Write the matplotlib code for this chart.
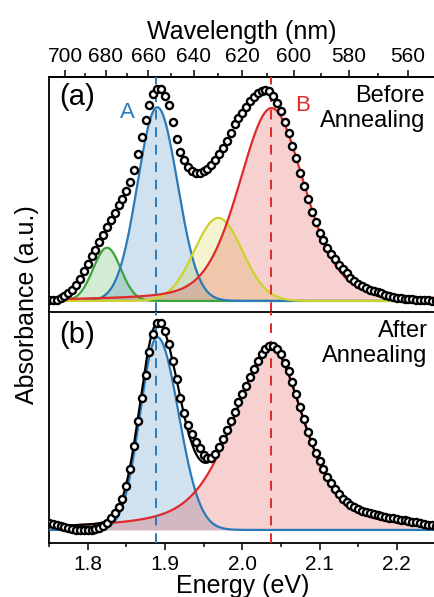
import numpy as np
import matplotlib
matplotlib.use('Agg')
import matplotlib.pyplot as plt
from matplotlib.ticker import MultipleLocator

plt.rcParams['font.family'] = ['Liberation Sans', 'DejaVu Sans']

# ---------------- data ----------------
energy = np.round(np.linspace(1.75, 2.25, 101), 3)

absorb_before = [
    0.005, 0.003, 0.005, 0.012, 0.022, 0.035, 0.052, 0.075, 0.105, 0.14,
    0.175, 0.21, 0.24, 0.275, 0.31, 0.345, 0.38, 0.415, 0.45, 0.48,
    0.515, 0.56, 0.615, 0.69, 0.77, 0.85, 0.92, 0.97, 0.995, 0.995,
    0.965, 0.92, 0.84, 0.76, 0.70, 0.66, 0.63, 0.61, 0.60, 0.60,
    0.61, 0.62, 0.64, 0.66, 0.69, 0.72, 0.75, 0.79, 0.83, 0.86,
    0.885, 0.91, 0.94, 0.96, 0.975, 0.985, 0.99, 0.985, 0.965, 0.93,
    0.89, 0.84, 0.79, 0.73, 0.67, 0.60, 0.54, 0.48, 0.42, 0.37,
    0.32, 0.285, 0.25, 0.22, 0.195, 0.17, 0.15, 0.13, 0.11, 0.095,
    0.08, 0.07, 0.06, 0.052, 0.045, 0.04, 0.035, 0.03, 0.025, 0.02,
    0.016, 0.013, 0.011, 0.009, 0.007, 0.006, 0.005, 0.004, 0.003, 0.002,
    0.001,
]

absorb_after = [
    0.035, 0.03, 0.024, 0.018, 0.013, 0.009, 0.005, 0.002, 0.0, -0.002,
    -0.002, 0.0, 0.003, 0.01, 0.02, 0.035, 0.055, 0.08, 0.11, 0.15,
    0.21, 0.29, 0.40, 0.52, 0.63, 0.74, 0.85, 0.94, 0.99, 0.99,
    0.95, 0.89, 0.81, 0.72, 0.63, 0.56, 0.50, 0.46, 0.42, 0.39,
    0.36, 0.345, 0.345, 0.365, 0.395, 0.435, 0.48, 0.52, 0.565, 0.61,
    0.65, 0.69, 0.73, 0.77, 0.81, 0.84, 0.865, 0.88, 0.88, 0.865,
    0.84, 0.80, 0.76, 0.71, 0.65, 0.59, 0.53, 0.47, 0.42, 0.37,
    0.33, 0.29, 0.255, 0.225, 0.195, 0.17, 0.15, 0.135, 0.12, 0.11,
    0.10, 0.093, 0.087, 0.081, 0.076, 0.071, 0.067, 0.063, 0.059, 0.055,
    0.052, 0.049, 0.046, 0.043, 0.04, 0.037, 0.034, 0.03, 0.026, 0.022,
    0.02,
]

# fitted peak components: centre (eV), height, FWHM left / right (eV), Lorentzian fraction
names_before = ['green', 'blue', 'yellow', 'red']
centre_before = [1.825, 1.890, 1.969, 2.038]
height_before = [0.25, 0.91, 0.39, 0.906]
fwhm_l_before = [0.042, 0.060, 0.073, 0.100]
fwhm_r_before = [0.042, 0.062, 0.073, 0.100]
eta_before = [0.0, 0.0, 0.0, 0.3]

names_after = ['blue', 'red']
centre_after = [1.890, 2.038]
height_after = [0.923, 0.87]
fwhm_l_after = [0.052, 0.120]
fwhm_r_after = [0.065, 0.100]
eta_after = [0.0, 0.5]

peak_A = 1.889
peak_B = 2.0376

wl_major = [700, 680, 660, 640, 620, 600, 580, 560]

colors = {'green': '#3aa53a', 'blue': '#2a7ab9', 'yellow': '#cdd22c', 'red': '#de2a2a'}


def pvoigt(x, c, h, wl, wr, eta):
    w = np.where(x < c, wl, wr)
    g = w / 2.0
    s = w / 2.3548
    d = x - c
    return h * (eta / (1 + (d / g) ** 2) + (1 - eta) * np.exp(-d ** 2 / (2 * s ** 2)))


xf = np.linspace(1.75, 2.25, 800)

fig = plt.figure(figsize=(4.34, 5.97), dpi=100)
L, R = 49 / 434, 435.5 / 434
ax1 = fig.add_axes([L, 1 - 312 / 597, R - L, 235 / 597])
ax2 = fig.add_axes([L, 1 - 543 / 597, R - L, 231 / 597])


def draw_panel(ax, names, cen, hei, fl, fr, eta, data, fitline):
    total = np.zeros_like(xf)
    for n, c, h, a, b, e in zip(names, cen, hei, fl, fr, eta):
        y = pvoigt(xf, c, h, a, b, e)
        total += y
        ax.fill_between(xf, 0, y, color=colors[n], alpha=0.22, lw=0, zorder=2)
        ax.plot(xf, y, color=colors[n], lw=1.6, zorder=3)
    ax.axvline(peak_A, color=colors['blue'], lw=1.4, dashes=(5, 4), zorder=4)
    ax.axvline(peak_B, color=colors['red'], lw=1.4, dashes=(5, 4), zorder=4)
    if fitline:
        ax.plot(xf, total, color='black', lw=1.6, zorder=5)
    ax.plot(energy, data, 'o', ms=5.1, mfc='white', mec='black', mew=1.7,
            zorder=6, clip_on=True)
    ax.set_xlim(1.75, 2.25)
    ax.set_yticks([])
    for sp in ax.spines.values():
        sp.set_linewidth(1.3)


draw_panel(ax1, names_before, centre_before, height_before, fwhm_l_before,
           fwhm_r_before, eta_before, absorb_before, False)
draw_panel(ax2, names_after, centre_after, height_after, fwhm_l_after,
           fwhm_r_after, eta_after, absorb_after, True)

ax1.set_ylim(-0.052, 1.052)
ax2.set_ylim(-0.0625, 1.043)
ax1.spines['bottom'].set_visible(False)

ax1.tick_params(axis='x', bottom=False, labelbottom=False)
ax2.xaxis.set_major_locator(MultipleLocator(0.1))
ax2.xaxis.set_minor_locator(MultipleLocator(0.05))
ax2.tick_params(axis='x', which='major', direction='out', length=5, width=1.1,
                labelsize=15, pad=4)
ax2.tick_params(axis='x', which='minor', direction='out', length=3, width=1.1)
ax2.set_xlabel('Energy (eV)', fontsize=18, labelpad=0)

# top wavelength axis
secax = ax1.secondary_xaxis('top', functions=(lambda e: 1239.84 / np.maximum(e, 1e-6),
                                              lambda w: 1239.84 / np.maximum(w, 1e-6)))
secax.set_xticks(wl_major)
secax.xaxis.set_minor_locator(MultipleLocator(10))
secax.tick_params(axis='x', which='major', direction='out', length=5, width=1.1,
                  labelsize=15, pad=3)
secax.tick_params(axis='x', which='minor', direction='out', length=3, width=1.1)
secax.set_xlabel('Wavelength (nm)', fontsize=18, labelpad=6)
secax.spines['top'].set_linewidth(1.3)

# annotations
ax1.text(0.072, 0.915, '(a)', transform=ax1.transAxes, fontsize=21,
         ha='center', va='center')
ax2.text(0.072, 0.9, '(b)', transform=ax2.transAxes, fontsize=21,
         ha='center', va='center')
ax1.text(0.202, 0.85, 'A', transform=ax1.transAxes, fontsize=16,
         color=colors['blue'], ha='center', va='center')
ax1.text(0.655, 0.88, 'B', transform=ax1.transAxes, fontsize=16,
         color=colors['red'], ha='center', va='center')
ax1.text(0.973, 0.965, 'Before\nAnnealing', transform=ax1.transAxes,
         fontsize=17, ha='right', va='top', linespacing=1.15)
ax2.text(0.98, 0.965, 'After\nAnnealing', transform=ax2.transAxes,
         fontsize=17, ha='right', va='top', linespacing=1.15)

fig.text(27 / 434, 1 - 305 / 597, 'Absorbance (a.u.)', rotation=90,
         fontsize=18, ha='center', va='center')

fig.savefig('out.png', dpi=100)
